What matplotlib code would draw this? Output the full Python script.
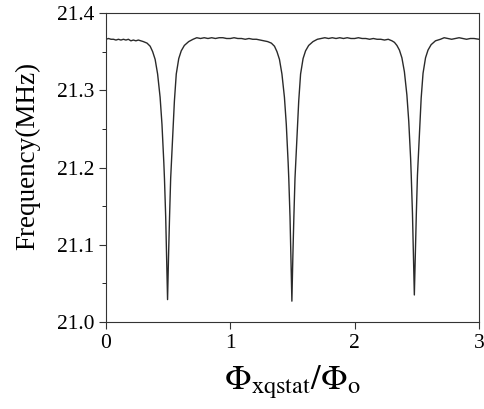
import matplotlib
matplotlib.use("Agg")
import matplotlib.pyplot as plt
from matplotlib.ticker import MultipleLocator

# ======================
# 1. Data
# ======================
flux = [0.00, 0.02, 0.04, 0.06, 0.08, 0.10, 0.12, 0.14, 0.16, 0.18,
        0.20, 0.22, 0.24, 0.26, 0.28, 0.30, 0.33, 0.355, 0.375, 0.395,
        0.415, 0.435, 0.45, 0.465, 0.47, 0.48, 0.487, 0.495, 0.503, 0.511,
        0.52, 0.535, 0.55, 0.565, 0.585, 0.605, 0.63, 0.665, 0.70, 0.73,
        0.76, 0.79, 0.82, 0.85, 0.88, 0.91, 0.94, 0.97, 1.00, 1.03,
        1.06, 1.09, 1.12, 1.15, 1.18, 1.21, 1.24, 1.27, 1.30, 1.33,
        1.355, 1.375, 1.395, 1.415, 1.435, 1.45, 1.465, 1.47, 1.48, 1.487,
        1.495, 1.503, 1.511, 1.52, 1.535, 1.55, 1.565, 1.585, 1.605, 1.63,
        1.665, 1.70, 1.73, 1.76, 1.79, 1.82, 1.85, 1.88, 1.91, 1.94,
        1.97, 2.00, 2.03, 2.06, 2.09, 2.12, 2.15, 2.18, 2.21, 2.24,
        2.27, 2.30, 2.32, 2.34, 2.36, 2.38, 2.40, 2.42, 2.435, 2.45,
        2.455, 2.465, 2.472, 2.48, 2.488, 2.496, 2.505, 2.52, 2.535, 2.55,
        2.57, 2.59, 2.615, 2.65, 2.69, 2.72, 2.75, 2.78, 2.81, 2.84,
        2.87, 2.90, 2.93, 2.96, 3.00]

freq = [21.366, 21.367, 21.366, 21.366, 21.365, 21.366, 21.365, 21.366, 21.365, 21.366,
        21.364, 21.365, 21.364, 21.365, 21.364, 21.363, 21.361, 21.357, 21.350, 21.340,
        21.321, 21.291, 21.256, 21.206, 21.186, 21.136, 21.086, 21.029, 21.086, 21.136,
        21.186, 21.236, 21.286, 21.321, 21.341, 21.351, 21.358, 21.363, 21.366, 21.368,
        21.367, 21.368, 21.367, 21.368, 21.367, 21.368, 21.368, 21.367, 21.367, 21.368,
        21.367, 21.367, 21.366, 21.367, 21.366, 21.366, 21.365, 21.364, 21.363, 21.361,
        21.357, 21.350, 21.340, 21.321, 21.291, 21.256, 21.206, 21.186, 21.136, 21.086,
        21.027, 21.086, 21.136, 21.186, 21.236, 21.286, 21.321, 21.341, 21.351, 21.358,
        21.363, 21.366, 21.367, 21.368, 21.367, 21.368, 21.367, 21.368, 21.367, 21.368,
        21.367, 21.367, 21.368, 21.367, 21.367, 21.366, 21.367, 21.366, 21.366, 21.365,
        21.366, 21.364, 21.362, 21.358, 21.352, 21.342, 21.324, 21.294, 21.260, 21.212,
        21.190, 21.140, 21.090, 21.035, 21.090, 21.140, 21.190, 21.240, 21.290, 21.322,
        21.342, 21.352, 21.359, 21.364, 21.366, 21.368, 21.367, 21.366, 21.367, 21.368,
        21.367, 21.366, 21.367, 21.367, 21.366]

x_ticks = [0, 1, 2, 3]
y_ticks = [21.0, 21.1, 21.2, 21.3, 21.4]

# ======================
# 2. Plot
# ======================
plt.rcParams['font.family'] = ['Liberation Serif', 'DejaVu Serif']
plt.rcParams['mathtext.fontset'] = 'stix'

fig = plt.figure(figsize=(4.85, 4.09), dpi=100)
ax = fig.add_axes([0.2186, 0.2127, 0.769, 0.7555])

ax.plot(flux, freq, color='#2a2a2a', linewidth=1.0)

ax.set_xlim(0, 3)
ax.set_ylim(21.0, 21.4)
ax.set_xticks(x_ticks)
ax.set_yticks(y_ticks)
ax.set_yticklabels([f"{v:.1f}" for v in y_ticks])
ax.yaxis.set_minor_locator(MultipleLocator(0.05))

ax.tick_params(axis='both', which='major', direction='out', length=5,
               width=0.8, labelsize=15.5, color='#333333')
ax.tick_params(axis='y', which='minor', direction='out', length=3, width=0.6)

for s in ax.spines.values():
    s.set_linewidth(0.8)
    s.set_color('#333333')

ax.set_ylabel("Frequency(MHz)", fontsize=19.5)
ax.yaxis.set_label_coords(-0.175, 0.537)
ax.set_xlabel(r"$\Phi_{\mathrm{xqstat}}/\Phi_{\mathrm{o}}$", fontsize=25, labelpad=8)

fig.savefig("out.png", dpi=100)
